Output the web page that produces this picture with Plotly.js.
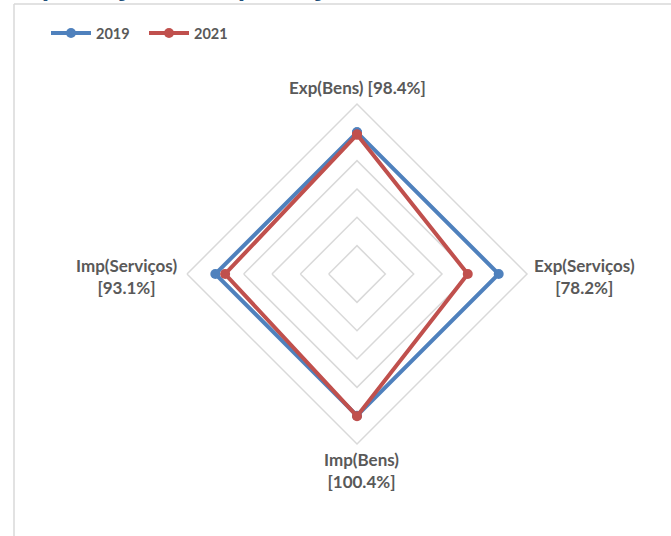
<!DOCTYPE html>
<html>
<head>
<meta charset="utf-8">
<script src="https://cdn.plot.ly/plotly-3.0.1.min.js"></script>
<style>
html,body{margin:0;padding:0;background:#fff;}
#chart{width:671px;height:536px;}
</style>
</head>
<body>
<div id="chart"></div>
<script>
// Data
var categories = ["Exp(Bens)", "Exp(Serviços)", "Imp(Bens)", "Imp(Serviços)"];
var pctLabels = ["98.4%", "78.2%", "100.4%", "93.1%"];
var series2019 = [100, 100, 100, 100];
var series2021 = [98.4, 78.2, 100.4, 93.1];
var seriesNames = ["2019", "2021"];
var titleText = "Importações e Exportações";

var labelText = categories.map(function (c, i) {
  return i === 0 ? c + " [" + pctLabels[i] + "]" : c + "<br>[" + pctLabels[i] + "]";
});

function closed(a) { return a.concat([a[0]]); }

var font = "Lato, 'Open Sans', sans-serif";
var traces = [
  {
    type: "scatterpolar", name: seriesNames[0],
    r: closed(series2019), theta: closed(categories),
    mode: "lines+markers",
    line: {color: "#4F81BD", width: 4},
    marker: {color: "#4F81BD", size: 10}
  },
  {
    type: "scatterpolar", name: seriesNames[1],
    r: closed(series2021), theta: closed(categories),
    mode: "lines+markers",
    line: {color: "#C0504D", width: 4},
    marker: {color: "#C0504D", size: 10}
  }
];

var W = 671, H = 536;
function px(x) { return x / W; }
function py(y) { return 1 - y / H; }

// polar geometry (pixels)
var cx = 357, cy = 274, R = 170;

// category labels placed around the outer polygon
var lblFont = {family: font, size: 17, color: "#595959", weight: "bold"};
var annots = [
  {x: px(cx), y: py(cy - R - 17), xanchor: "center", yanchor: "middle"},
  {x: px(cx + R + 5), y: py(cy + 2), xanchor: "left", yanchor: "middle"},
  {x: px(cx + 4), y: py(cy + R + 26), xanchor: "center", yanchor: "middle"},
  {x: px(cx - R - 8), y: py(cy + 2), xanchor: "right", yanchor: "middle"}
].map(function (a, i) {
  return Object.assign({
    xref: "paper", yref: "paper", showarrow: false, align: "center",
    text: labelText[i], font: lblFont
  }, a);
});

// chart title (cut off at the top edge, only its descenders show)
annots.push({
  xref: "paper", yref: "paper", x: px(6), y: 1, xanchor: "left", yanchor: "bottom",
  yshift: -4, showarrow: false,
  text: "<b>" + titleText + "</b>",
  font: {family: "Lato, sans-serif", size: 30, color: "#1F4E79"}
});

var layout = {
  width: W, height: H,
  margin: {l: 0, r: 0, t: 0, b: 0},
  paper_bgcolor: "#fff",
  font: {family: font, color: "#595959"},
  showlegend: true,
  legend: {
    orientation: "h",
    x: px(46), xanchor: "left",
    y: py(33), yanchor: "middle",
    itemwidth: 40,
    entrywidth: 43,
    font: {family: font, size: 14.5, color: "#595959", weight: "bold"},
    bgcolor: "rgba(0,0,0,0)"
  },
  polar: {
    domain: {x: [px(cx - R), px(cx + R)], y: [py(cy + R), py(cy - R)]},
    gridshape: "linear",
    bgcolor: "#fff",
    radialaxis: {
      range: [0, 120], dtick: 20, tick0: 0,
      showticklabels: false, ticks: "", showline: false,
      gridcolor: "#D9D9D9", gridwidth: 1.5
    },
    angularaxis: {
      type: "category",
      categoryorder: "array", categoryarray: categories,
      direction: "clockwise", rotation: 90,
      showgrid: false, ticks: "", showticklabels: false,
      linecolor: "#D9D9D9", linewidth: 1.5
    }
  },
  annotations: annots,
  shapes: [
    {type: "line", xref: "paper", yref: "paper", x0: px(14), x1: px(14), y0: py(4), y1: 0,
     line: {color: "#D9D9D9", width: 1.5}},
    {type: "line", xref: "paper", yref: "paper", x0: px(14), x1: 1, y0: py(4), y1: py(4),
     line: {color: "#D9D9D9", width: 1.5}}
  ]
};

Plotly.newPlot("chart", traces, layout, {displayModeBar: false, staticPlot: true});
</script>
</body>
</html>
